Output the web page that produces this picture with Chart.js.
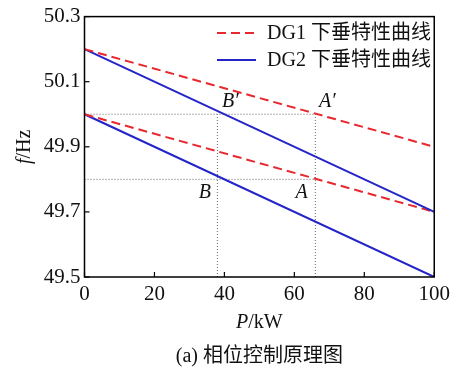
<!DOCTYPE html>
<html><head><meta charset="utf-8">
<script src="https://cdn.jsdelivr.net/npm/chart.js@4.4.1/dist/chart.umd.min.js"></script>
<style>html,body{margin:0;padding:0;background:#fff;}#c{display:block;}</style>
</head><body>
<canvas id="c" width="455" height="371"></canvas>
<script>
// ---- data ----
const xTicks = [0, 20, 40, 60, 80, 100];
const yTicks = [49.5, 49.7, 49.9, 50.1, 50.3];
const seriesNames = ["DG1 下垂特性曲线", "DG2 下垂特性曲线"];
const lineP = [0, 100];
const dg1Upper = [50.2, 49.9];
const dg1Lower = [50.0, 49.7];
const dg2Upper = [50.2, 49.7];
const dg2Lower = [50.0, 49.5];
const guideHx = [0, 66];
const guideHy1 = [50.0, 50.0];
const guideHy2 = [49.8, 49.8];
const guideVx1 = [38, 38];
const guideVx2 = [66, 66];
const guideVy = [49.5, 50.0];
const pointLabels = ["B′", "A′", "B", "A"];
const pointLabelX = [41.7, 69.4, 34.4, 62.1];
const pointLabelY = [50.037, 50.037, 49.758, 49.758];
const xTitle = ["P", "/kW"];
const yTitle = ["f", "/Hz"];
const caption = "(a) 相位控制原理图";

const RED = '#e8282f', BLUE = '#2424c8', GUIDE = '#666';
const FONT = '"Liberation Serif", "Noto Sans CJK SC", serif';
const pts = (xs, ys) => xs.map((x, i) => ({x, y: ys[i]}));

const ds = (label, data, color, dash, width) => ({
  label, data, borderColor: color, backgroundColor: color, borderDash: dash,
  borderWidth: width, showLine: true, pointRadius: 0, fill: false, tension: 0
});

const datasets = [
  ds(seriesNames[0], pts(lineP, dg1Upper), RED, [9, 5], 2),
  ds(seriesNames[1], pts(lineP, dg2Upper), BLUE, [], 2),
  ds(seriesNames[0], pts(lineP, dg1Lower), RED, [9, 5], 2),
  ds(seriesNames[1], pts(lineP, dg2Lower), BLUE, [], 2),
  ds('g1', pts(guideHx, guideHy1), GUIDE, [1, 2], 1),
  ds('g2', pts(guideHx, guideHy2), GUIDE, [1, 2], 1),
  ds('g3', pts(guideVx1, guideVy), GUIDE, [1, 2], 1),
  ds('g4', pts(guideVx2, guideVy), GUIDE, [1, 2], 1),
];
datasets.forEach((d, i) => d.order = i < 4 ? 0 : 1);

const deco = {
  id: 'deco',
  afterDraw(chart) {
    const {ctx, chartArea: a, scales: {x, y}} = chart;
    ctx.save();
    ctx.strokeStyle = '#000'; ctx.lineWidth = 1.5; ctx.setLineDash([]);
    ctx.strokeRect(a.left, a.top, a.right - a.left, a.bottom - a.top);
    ctx.lineWidth = 1.2;
    xTicks.forEach(v => { const px = x.getPixelForValue(v); ctx.beginPath(); ctx.moveTo(px, a.bottom); ctx.lineTo(px, a.bottom - 5); ctx.stroke(); });
    yTicks.forEach(v => { const py = y.getPixelForValue(v); ctx.beginPath(); ctx.moveTo(a.left, py); ctx.lineTo(a.left + 5, py); ctx.stroke(); });
    ctx.fillStyle = '#111';
    ctx.font = 'italic 20px ' + FONT;
    ctx.textAlign = 'center'; ctx.textBaseline = 'middle';
    pointLabels.forEach((t, i) => ctx.fillText(t, x.getPixelForValue(pointLabelX[i]), y.getPixelForValue(pointLabelY[i])));
    const lx0 = 217, lx1 = 256, tx = 267, rows = [33, 60];
    [0, 1].forEach(i => {
      const d = chart.data.datasets[i];
      ctx.strokeStyle = d.borderColor; ctx.lineWidth = 2; ctx.setLineDash(d.borderDash || []);
      ctx.beginPath(); ctx.moveTo(lx0, rows[i]); ctx.lineTo(lx1, rows[i]); ctx.stroke();
      ctx.setLineDash([]);
      ctx.font = '20px ' + FONT; ctx.textAlign = 'left'; ctx.fillStyle = '#111';
      ctx.fillText(d.label, tx, rows[i] + 1);
    });
    const drawMixed = (parts, cx, cy) => {
      ctx.font = 'italic 20px ' + FONT; const w0 = ctx.measureText(parts[0]).width;
      ctx.font = '20px ' + FONT; const w1 = ctx.measureText(parts[1]).width;
      let sx = cx - (w0 + w1) / 2;
      ctx.textAlign = 'left';
      ctx.font = 'italic 20px ' + FONT; ctx.fillText(parts[0], sx, cy);
      ctx.font = '20px ' + FONT; ctx.fillText(parts[1], sx + w0, cy);
    };
    ctx.textBaseline = 'middle';
    drawMixed(xTitle, (a.left + a.right) / 2, 323);
    ctx.save(); ctx.translate(25, (a.top + a.bottom) / 2); ctx.rotate(-Math.PI / 2);
    drawMixed(yTitle, 0, 0); ctx.restore();
    ctx.font = '20px ' + FONT; ctx.textAlign = 'center';
    ctx.fillText(caption, (a.left + a.right) / 2, 357);
    ctx.restore();
  }
};

new Chart(document.getElementById('c'), {
  type: 'scatter',
  data: {datasets},
  options: {
    responsive: false, devicePixelRatio: 1, animation: false,
    layout: {padding: {left: 0, top: 13.5, right: 17, bottom: 0}},
    plugins: {legend: {display: false}, tooltip: {enabled: false}},
    scales: {
      x: {
        type: 'linear', min: 0, max: 100,
        afterBuildTicks: s => { s.ticks = xTicks.map(v => ({value: v})); },
        afterFit: s => { s.height = 94; },
        grid: {display: false, drawTicks: false},
        border: {display: false},
        ticks: {color: '#111', font: {family: FONT, size: 21}, padding: 5, maxRotation: 0}
      },
      y: {
        type: 'linear', min: 49.5, max: 50.3,
        afterBuildTicks: s => { s.ticks = yTicks.map(v => ({value: v})); },
        afterFit: s => { s.width = 84.5; },
        grid: {display: false, drawTicks: false},
        border: {display: false},
        ticks: {color: '#111', font: {family: FONT, size: 21}, padding: 4, callback: v => v.toFixed(1)}
      }
    }
  },
  plugins: [deco]
});
</script>
</body></html>
